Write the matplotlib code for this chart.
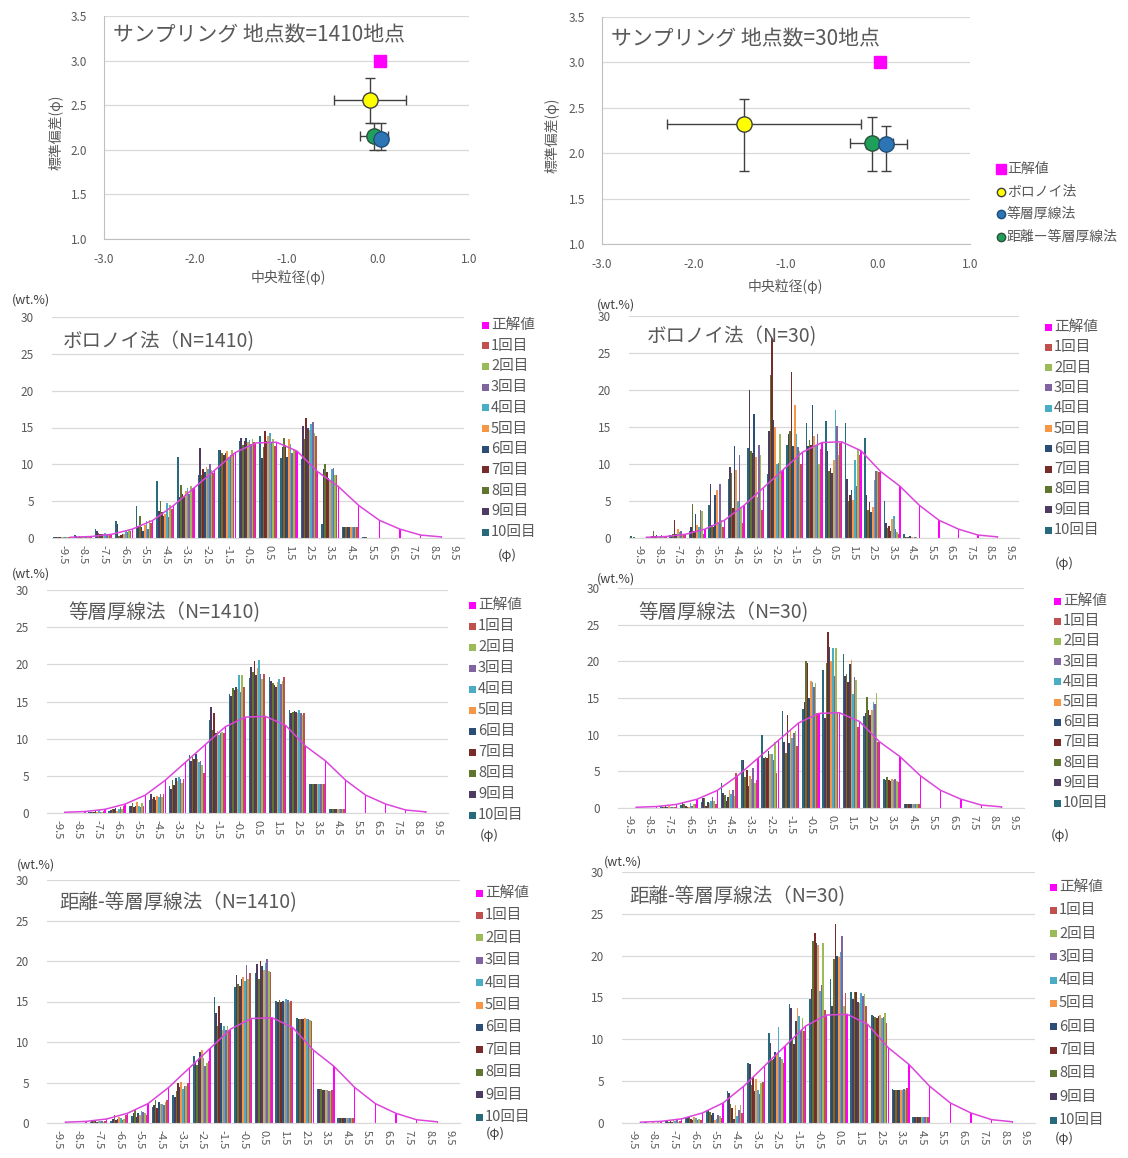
import numpy as np
import matplotlib
matplotlib.use("Agg")
import matplotlib.pyplot as plt
from matplotlib.patches import Rectangle
from matplotlib.lines import Line2D

plt.rcParams['font.family'] = ['Noto Sans CJK JP', 'DejaVu Sans']

W, H = 1128, 1158
GRAY = '#595959'
GRID = '#D9D9D9'

# ---- scatter data (中央粒径 / 標準偏差) ----
methods = ['正解値', 'ボロノイ法', '等層厚線法', '距離ー等層厚線法']
med_1410 = [0.03, -0.09, 0.04, -0.04]
sd_1410 = [3.0, 2.56, 2.12, 2.16]
med_err_lo_1410 = [0.0, 0.39, 0.05, 0.15]
med_err_hi_1410 = [0.0, 0.40, 0.05, 0.15]
sd_err_lo_1410 = [0.0, 0.26, 0.12, 0.16]
sd_err_hi_1410 = [0.0, 0.24, 0.18, 0.14]

med_30 = [0.02, -1.46, 0.09, -0.07]
sd_30 = [3.0, 2.32, 2.10, 2.11]
med_err_lo_30 = [0.0, 0.83, 0.22, 0.23]
med_err_hi_30 = [0.0, 1.27, 0.22, 0.23]
sd_err_lo_30 = [0.0, 0.52, 0.30, 0.31]
sd_err_hi_30 = [0.0, 0.28, 0.20, 0.29]

# ---- histogram data ----
phi_labels = ['-9.5', '-8.5', '-7.5', '-6.5', '-5.5', '-4.5', '-3.5', '-2.5', '-1.5', '-0.5',
              '0.5', '1.5', '2.5', '3.5', '4.5', '5.5', '6.5', '7.5', '8.5', '9.5']
run_names = ['1回目', '2回目', '3回目', '4回目', '5回目', '6回目', '7回目', '8回目', '9回目', '10回目']
run_colors = ['#C0504D', '#9BBB59', '#8064A2', '#4BACC6', '#F79646',
              '#2C4D75', '#772C2A', '#5F7530', '#4D3B62', '#276A7C']
true_color = '#FF00FF'
line_color = '#DC45DC'

true_wt = [0.1, 0.2, 0.5, 1.2, 2.4, 4.4, 6.8, 9.2, 11.6, 12.9,
           13.0, 11.8, 9.0, 7.0, 4.4, 2.4, 1.2, 0.4, 0.15, np.nan]

Z = [0.0] * 10
# one row per phi class, values in group order left->right (10回目 ... 1回目)
voronoi_1410 = [
    [0.1] * 10,
    [0.4, 0.3, 0.2, 0.3, 0.2, 0.3, 0.2, 0.2, 0.3, 0.2],
    [1.2, 1.0, 0.7, 0.6, 0.5, 0.6, 0.7, 0.5, 0.6, 0.4],
    [2.3, 1.9, 0.3, 0.4, 0.5, 0.6, 1.0, 0.8, 1.1, 1.0],
    [4.3, 1.6, 3.0, 1.5, 1.0, 1.8, 2.3, 1.2, 2.4, 2.0],
    [7.8, 3.6, 5.0, 3.5, 3.0, 3.2, 4.7, 2.9, 4.5, 4.0],
    [11.0, 5.5, 7.2, 6.0, 5.6, 6.4, 6.8, 6.0, 7.0, 6.8],
    [8.6, 12.2, 8.5, 9.4, 9.0, 9.6, 9.3, 10.0, 9.2, 8.8],
    [12.0, 11.9, 11.6, 11.2, 11.5, 11.8, 11.0, 11.2, 11.9, 11.5],
    [13.2, 13.6, 12.6, 13.2, 13.6, 13.0, 13.3, 12.8, 13.5, 13.0],
    [13.8, 10.9, 12.3, 14.5, 13.2, 13.8, 14.3, 12.9, 13.5, 12.5],
    [10.8, 12.3, 13.6, 12.6, 11.0, 13.5, 12.8, 11.5, 12.0, 11.8],
    [10.7, 15.2, 13.5, 16.3, 15.0, 14.6, 15.5, 15.8, 14.2, 13.9],
    [1.9, 9.3, 10.0, 9.0, 8.2, 7.8, 9.4, 9.5, 8.6, 8.6],
    [1.5] * 10,
    [0.1, 0.1, 0.1, 0.0, 0.0, 0.0, 0.0, 0.0, 0.0, 0.0],
    Z, Z, Z, Z,
]
voronoi_30 = [
    [0.3, 0.0, 0.1, 0.0, 0.0, 0.0, 0.0, 0.0, 0.0, 0.0],
    [0.2, 0.3, 1.0, 0.3, 0.4, 0.2, 0.3, 0.4, 0.3, 0.2],
    [0.4, 0.3, 0.5, 2.5, 0.5, 1.2, 0.8, 1.0, 0.6, 0.5],
    [1.0, 1.5, 4.6, 1.0, 3.3, 1.8, 1.5, 3.8, 3.6, 0.5],
    [4.5, 7.3, 1.8, 1.5, 5.8, 6.5, 2.0, 7.3, 2.5, 1.5],
    [8.0, 9.6, 8.8, 4.0, 12.5, 9.2, 5.0, 11.2, 4.0, 2.0],
    [12.2, 20.0, 11.8, 11.5, 16.8, 11.0, 5.6, 12.6, 11.2, 3.8],
    [8.6, 14.5, 22.0, 27.0, 16.0, 15.0, 10.0, 10.2, 14.0, 9.0],
    [12.6, 14.0, 14.4, 22.5, 12.5, 18.0, 14.0, 12.3, 11.8, 10.0],
    [15.5, 12.5, 13.2, 12.6, 18.0, 13.8, 12.6, 14.0, 10.0, 12.0],
    [15.8, 11.8, 9.0, 9.4, 8.8, 10.6, 17.3, 15.2, 11.2, 12.8],
    [15.5, 8.0, 5.0, 5.8, 6.5, 5.2, 10.5, 7.0, 12.0, 11.2],
    [13.5, 5.8, 3.8, 4.8, 3.5, 4.2, 7.8, 9.0, 9.0, 8.9],
    [5.0, 2.0, 1.3, 1.6, 1.0, 2.6, 3.0, 1.2, 0.8, 0.5],
    [0.6, 0.1, 0.1, 0.2, 0.3, 0.1, 0.0, 0.1, 0.1, 0.0],
    Z, Z, Z, Z, Z,
]
isopach_1410 = [
    Z, Z,
    [0.1, 0.2, 0.2, 0.1, 0.3, 0.2, 0.4, 0.2, 0.1, 0.3],
    [0.3, 0.4, 0.6, 0.5, 0.7, 0.3, 0.5, 0.8, 0.6, 1.0],
    [1.0, 0.9, 1.3, 0.8, 1.0, 1.5, 0.9, 0.8, 1.4, 1.0],
    [1.8, 2.6, 1.9, 2.2, 1.8, 2.3, 2.1, 2.5, 2.1, 2.6],
    [3.6, 3.2, 4.4, 3.8, 4.7, 4.3, 4.8, 4.6, 4.0, 4.6],
    [7.8, 7.0, 7.5, 7.3, 8.0, 7.2, 6.8, 7.0, 6.5, 5.4],
    [12.5, 14.3, 11.2, 13.5, 10.8, 11.0, 10.5, 10.8, 10.9, 10.7],
    [16.0, 15.8, 16.8, 16.5, 17.0, 16.7, 18.6, 16.3, 18.5, 17.0],
    [18.2, 19.6, 19.0, 20.4, 18.6, 19.5, 20.6, 18.7, 18.0, 18.7],
    [18.3, 17.8, 17.5, 17.2, 17.0, 17.6, 18.0, 17.3, 17.8, 18.3],
    [13.8, 13.5, 13.6, 13.7, 13.6, 13.5, 13.8, 13.4, 13.2, 13.5],
    [3.9] * 10,
    [0.5] * 10,
    Z, Z, Z, Z, Z,
]
isopach_30 = [
    Z, Z,
    [0.3, 0.1, 0.2, 0.4, 0.1, 0.3, 0.2, 0.1, 0.2, 0.1],
    [0.4, 0.8, 0.5, 0.3, 0.2, 0.1, 0.7, 0.3, 0.5, 0.6],
    [0.8, 1.4, 1.3, 0.3, 0.8, 0.7, 0.9, 1.5, 1.0, 0.6],
    [3.4, 2.0, 1.8, 1.0, 1.5, 2.5, 1.9, 2.4, 1.6, 4.8],
    [6.5, 6.5, 4.2, 5.2, 3.0, 4.3, 4.0, 5.5, 3.4, 3.8],
    [10.0, 6.8, 7.0, 6.8, 7.8, 7.3, 7.3, 6.5, 9.0, 4.8],
    [13.2, 9.0, 7.5, 12.7, 8.8, 10.5, 9.5, 10.2, 10.5, 8.5],
    [13.5, 14.5, 20.0, 19.8, 15.0, 17.3, 17.2, 16.5, 17.0, 13.0],
    [18.8, 12.3, 19.8, 24.0, 22.0, 20.0, 21.8, 18.0, 21.8, 13.0],
    [21.0, 18.0, 18.3, 17.2, 19.7, 20.2, 15.5, 17.8, 17.5, 11.0],
    [12.5, 13.0, 15.2, 13.3, 12.7, 13.3, 14.5, 14.2, 15.7, 9.0],
    [4.0, 3.8, 4.2, 3.8, 3.7, 3.9, 3.8, 4.0, 3.7, 3.5],
    [0.6, 0.6, 0.6, 0.5, 0.5, 0.6, 0.5, 0.5, 0.5, 0.5],
    Z, Z, Z, Z, Z,
]
dist_1410 = [
    Z,
    [0.05] * 10,
    [0.1, 0.2, 0.3, 0.2, 0.1, 0.2, 0.3, 0.2, 0.1, 0.2],
    [0.3, 0.5, 1.0, 0.4, 0.5, 0.8, 0.6, 0.4, 0.5, 1.0],
    [0.9, 1.2, 1.6, 0.8, 1.2, 1.0, 1.5, 1.3, 1.2, 1.0],
    [2.0, 2.2, 2.8, 1.8, 2.6, 2.4, 2.3, 2.2, 2.6, 2.8],
    [3.5, 3.2, 4.0, 5.0, 4.5, 5.1, 4.2, 4.6, 4.6, 5.0],
    [8.3, 7.4, 7.2, 8.0, 8.8, 9.0, 8.0, 7.0, 7.4, 7.6],
    [15.5, 13.6, 12.0, 14.5, 12.4, 11.5, 12.0, 11.5, 12.0, 11.5],
    [16.8, 18.3, 17.2, 16.9, 17.8, 18.0, 17.5, 19.5, 17.8, 18.5],
    [18.5, 19.6, 17.8, 20.0, 19.4, 18.9, 19.8, 20.3, 18.8, 18.6],
    [15.1, 15.0, 15.2, 14.9, 15.1, 15.0, 15.3, 15.2, 15.0, 15.1],
    [13.0, 12.9, 12.9, 12.8, 12.9, 13.0, 12.8, 12.9, 12.7, 12.6],
    [4.2, 4.2, 4.2, 4.1, 4.1, 4.1, 4.1, 4.0, 4.0, 4.1],
    [0.6] * 10,
    Z, Z, Z, Z, Z,
]
dist_30 = [
    Z,
    [0.1, 0.1, 0.05, 0.0, 0.0, 0.1, 0.0, 0.0, 0.1, 0.0],
    [0.2, 0.3, 0.1, 0.2, 0.1, 0.3, 0.2, 0.4, 0.1, 0.2],
    [0.6, 0.7, 0.8, 0.5, 0.3, 0.7, 0.6, 0.3, 0.5, 0.4],
    [1.5, 1.6, 1.3, 1.0, 1.2, 0.3, 0.5, 1.0, 0.8, 0.6],
    [3.8, 3.6, 2.3, 1.8, 0.5, 2.2, 0.8, 1.5, 2.2, 1.2],
    [7.2, 7.0, 4.5, 5.5, 3.8, 5.3, 4.0, 3.5, 4.8, 4.9],
    [10.8, 9.6, 7.5, 7.7, 8.5, 8.2, 11.5, 7.9, 7.6, 7.2],
    [14.2, 13.8, 10.0, 9.5, 12.2, 13.8, 12.8, 11.0, 12.5, 11.0],
    [14.8, 16.0, 21.7, 22.7, 21.5, 21.3, 15.8, 16.5, 21.5, 13.5],
    [17.2, 14.0, 19.6, 23.8, 20.0, 19.9, 20.4, 22.3, 14.0, 15.5],
    [15.7, 14.8, 15.7, 15.7, 14.5, 14.4, 15.5, 15.2, 15.4, 14.0],
    [12.9, 12.8, 12.7, 12.6, 12.8, 12.9, 12.6, 12.7, 13.2, 12.0],
    [4.1, 4.0, 4.0, 4.0, 4.0, 4.0, 4.0, 4.1, 4.0, 4.2],
    [0.7] * 10,
    Z, Z, Z, Z, Z,
]

fig = plt.figure(figsize=(W / 100, H / 100), dpi=100)


def px_axes(l, t, r, b):
    return fig.add_axes([l / W, 1 - b / H, (r - l) / W, (b - t) / H])


def ftext(x, y, s, **kw):
    kw.setdefault('color', GRAY)
    fig.text(x / W, 1 - y / H, s, **kw)


def scatter_panel(rect, med, sd, med_lo, med_hi, sd_lo, sd_hi, title, title_xy, ylab_x, xlab_xy):
    ax = px_axes(*rect)
    ax.set_xlim(-3, 1)
    ax.set_ylim(1.0, 3.5)
    ax.set_xticks([-3, -2, -1, 0, 1])
    ax.set_xticklabels(['-3.0', '-2.0', '-1.0', '0.0', '1.0'])
    ax.set_yticks([1.0, 1.5, 2.0, 2.5, 3.0, 3.5])
    ax.set_yticklabels(['1.0', '1.5', '2.0', '2.5', '3.0', '3.5'])
    ax.yaxis.grid(True, color=GRID, lw=0.9)
    ax.set_axisbelow(True)
    for s in ['top', 'right']:
        ax.spines[s].set_visible(False)
    for s in ['left', 'bottom']:
        ax.spines[s].set_color('#BFBFBF')
    ax.tick_params(length=0, labelsize=8.5, labelcolor=GRAY)
    ax.tick_params(axis='y', pad=12)
    ax.tick_params(axis='x', pad=10)
    styles = [
        dict(marker='s', ms=9, mfc=true_color, mec=true_color),
        dict(marker='o', ms=11, mfc='#FFFF00', mec='#404040'),
        dict(marker='o', ms=11, mfc='#2E75B6', mec='#1F4E79'),
        dict(marker='o', ms=11, mfc='#1FA05A', mec='#2A4F3A'),
    ]
    for i in [0, 1, 3, 2]:
        ax.errorbar(med[i], sd[i],
                    xerr=[[med_lo[i]], [med_hi[i]]] if med_hi[i] else None,
                    yerr=[[sd_lo[i]], [sd_hi[i]]] if sd_hi[i] else None,
                    ecolor='#404040', elinewidth=1, capsize=3.5, capthick=1,
                    mew=1, ls='none', zorder=3, **styles[i])
    ftext(title_xy[0], title_xy[1], title, fontsize=15, va='center', color='#595959')
    ftext(ylab_x, (rect[1] + rect[3]) / 2 + 5, '標準偏差(φ)', fontsize=10, rotation=90,
          ha='center', va='center')
    ftext(xlab_xy[0], xlab_xy[1], '中央粒径(φ)', fontsize=10, ha='center', va='center')
    return styles


def bar_panel(rect, rows, title, title_xy, leg_x, leg_y0, leg_y1, wt_xy, phi_xy):
    ax = px_axes(*rect)
    vals = np.array(rows)
    n_cat = len(phi_labels)
    x = np.arange(n_cat)
    group = 0.87
    w = group / 11
    for j in range(10):
        run = 9 - j
        ax.bar(x - group / 2 + w * (j + 0.5), vals[:, j], width=w,
               color=run_colors[run], linewidth=0, zorder=2)
    tx = x - group / 2 + w * 10.5
    ax.bar(tx, np.nan_to_num(true_wt), width=w * 0.8, color=true_color, linewidth=0, zorder=2)
    ax.plot(tx, true_wt, color=line_color, lw=1.1, zorder=3)
    ax.set_xlim(-0.5, n_cat - 0.5)
    ax.set_ylim(0, 30)
    ax.set_yticks(range(0, 31, 5))
    ax.set_xticks(x)
    ax.set_xticklabels(phi_labels, rotation=270)
    ax.yaxis.grid(True, color=GRID, lw=0.9)
    ax.set_axisbelow(True)
    for s in ['top', 'right', 'left']:
        ax.spines[s].set_visible(False)
    ax.spines['bottom'].set_color(GRID)
    ax.tick_params(length=0, labelcolor=GRAY)
    ax.tick_params(axis='y', pad=13, labelsize=8.5)
    ax.tick_params(axis='x', pad=5, labelsize=8)
    ftext(title_xy[0], title_xy[1], title, fontsize=14, va='center')
    ftext(wt_xy[0], wt_xy[1], '(wt.%)', fontsize=9, ha='center', va='center', color='#404040')
    ftext(phi_xy[0], phi_xy[1], '(φ)', fontsize=9.5, ha='center', va='center', color='#404040')
    names = ['正解値'] + run_names
    colors = [true_color] + run_colors
    step = (leg_y1 - leg_y0) / 10
    for k in range(11):
        y = leg_y0 + k * step
        fig.add_artist(Rectangle((leg_x / W, 1 - (y + 3.5) / H), 7 / W, 7 / H,
                                 transform=fig.transFigure, color=colors[k], lw=0))
        ftext(leg_x + 9, y, names[k], fontsize=10.5, va='center')


styles = scatter_panel((104, 16, 469, 239), med_1410, sd_1410, med_err_lo_1410, med_err_hi_1410,
                       sd_err_lo_1410, sd_err_hi_1410, 'サンプリング 地点数=1410地点',
                       (113, 35), 56, (288, 277))
scatter_panel((602, 17, 970, 244), med_30, sd_30, med_err_lo_30, med_err_hi_30,
              sd_err_lo_30, sd_err_hi_30, 'サンプリング 地点数=30地点',
              (611, 39), 552, (785, 286))

# scatter legend
for k, (yy, st) in enumerate(zip([169, 192, 214, 237], styles)):
    fig.add_artist(Line2D([1001 / W], [1 - yy / H], transform=fig.transFigure,
                          marker=st['marker'], ms=6 if k else 6.5, mfc=st['mfc'],
                          mec=st['mec'], mew=1, ls='none'))
    ftext(1007, yy, methods[k], fontsize=10, va='center')

bar_panel((52, 317, 464, 538), voronoi_1410, 'ボロノイ法（N=1410)', (63, 342),
          482, 325, 532, (31, 300), (507, 555))
bar_panel((629, 316, 1019, 538), voronoi_30, 'ボロノイ法（N=30)', (647, 337),
          1045, 327, 530, (616, 305), (1064, 563))
bar_panel((47, 590, 448, 813), isopach_1410, '等層厚線法（N=1410)', (68, 613),
          469, 605, 815, (31, 574), (489, 835))
bar_panel((618, 588, 1024, 808), isopach_30, '等層厚線法（N=30)', (638, 613),
          1054, 601, 803, (616, 579), (1060, 835))
bar_panel((47, 880, 460, 1123), dist_1410, '距離-等層厚線法（N=1410)', (59, 903),
          476, 893, 1117, (36, 865), (495, 1133))
bar_panel((622, 872, 1035, 1123), dist_30, '距離-等層厚線法（N=30)', (629, 897),
          1050, 887, 1120, (623, 862), (1064, 1138))

fig.savefig('out.png', dpi=100)
